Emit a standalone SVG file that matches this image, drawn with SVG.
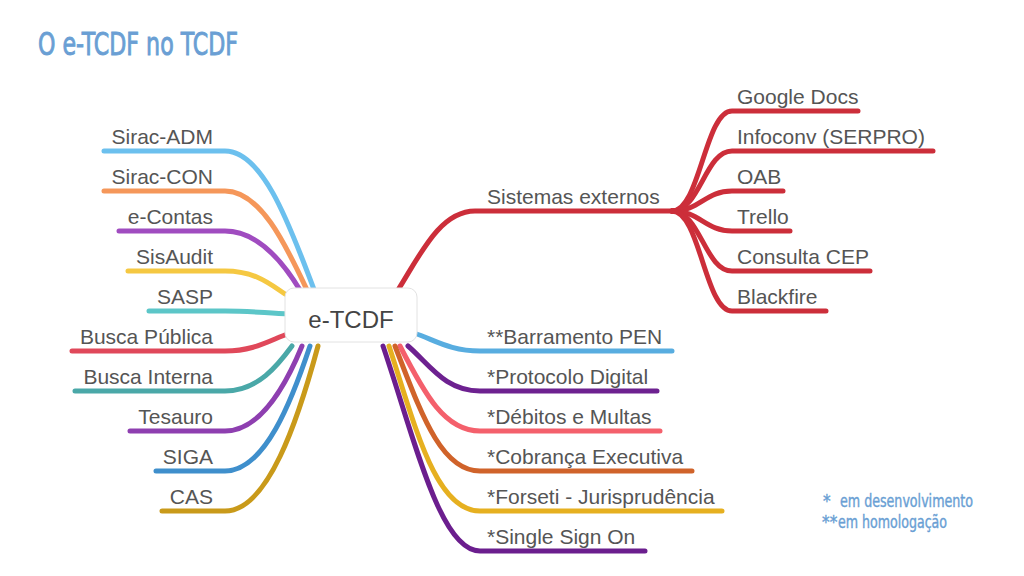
<svg xmlns="http://www.w3.org/2000/svg" width="1024" height="576" viewBox="0 0 1024 576">
<style>
.bg{fill:#ffffff}
.c{fill:none;stroke-width:5;stroke-linecap:round;stroke-linejoin:round}
.lbl{font-family:"Liberation Sans",Arial,sans-serif;font-size:21px;fill:#555555}
.l{text-anchor:end}
.hd{font-family:"DejaVu Sans","Liberation Sans",sans-serif;font-stretch:condensed;fill:#6a9fd4;stroke:#6a9fd4}
.root{fill:#ffffff;stroke:#e2e2e2;stroke-width:1}
.red{stroke:#cc2e3a}
</style>
<rect class="bg" x="0" y="0" width="1024" height="576"/>
<g id="title"><text class="hd" x="38" y="55" font-size="32" stroke-width="0.9" textLength="200" lengthAdjust="spacingAndGlyphs">O e-TCDF no TCDF</text></g>
<g id="connectors">
<path class="c" stroke="#6cc0ee" d="M104,151 H225 C265,151 293,235 315,292"/>
<path class="c" stroke="#f5975a" d="M104,191 H225 C262,191 288,250 308,292"/>
<path class="c" stroke="#a04cc0" d="M119,231 H225 C258,231 283,262 300,290"/>
<path class="c" stroke="#f5c842" d="M128,271 H225 C255,271 270,284 285,294"/>
<path class="c" stroke="#5cc6c8" d="M149,311 H225 C250,311 265,313 290,314"/>
<path class="c" stroke="#e0485a" d="M72,351 H225 C255,351 270,340 290,333"/>
<path class="c" stroke="#4aa8a8" d="M75,391 H225 C258,391 278,365 292,346"/>
<path class="c" stroke="#8e3fb0" d="M130,431 H225 C262,431 288,380 302,346"/>
<path class="c" stroke="#3f8fcc" d="M156,471 H225 C265,471 292,400 310,346"/>
<path class="c" stroke="#c99a1a" d="M162,511 H225 C268,511 298,420 318,346"/>
<path class="c red" d="M398,290 C420,255 440,211 475,211 H672"/>
<path class="c red" d="M672,211 C700,211 705,111 732,111 H858"/>
<path class="c red" d="M672,211 C700,211 705,151 732,151 H933"/>
<path class="c red" d="M672,211 C700,211 705,191 732,191 H783"/>
<path class="c red" d="M672,211 C700,211 705,231 732,231 H790"/>
<path class="c red" d="M672,211 C700,211 705,271 732,271 H870"/>
<path class="c red" d="M672,211 C700,211 705,311 732,311 H826"/>
<path class="c" stroke="#58ade0" d="M414,333 C435,340 450,351 480,351 H672"/>
<path class="c" stroke="#6d2190" d="M408,346 C430,365 445,391 480,391 H657"/>
<path class="c" stroke="#f4606c" d="M400,346 C425,395 445,431 480,431 H660"/>
<path class="c" stroke="#d0632a" d="M395,346 C420,410 440,471 480,471 H692"/>
<path class="c" stroke="#e6b020" d="M389,346 C415,425 435,511 480,511 H722"/>
<path class="c" stroke="#6b1e8e" d="M383,346 C415,440 440,551 480,551 H645"/>
</g>
<g id="root"><rect class="root" x="285" y="288" width="132" height="54" rx="9"/><text x="351" y="328" text-anchor="middle" font-family="Liberation Sans, Arial, sans-serif" font-size="24" fill="#444444">e-TCDF</text></g>
<g id="sirac-adm"><text class="lbl l" x="213" y="144">Sirac-ADM</text></g>
<g id="sirac-con"><text class="lbl l" x="213" y="184">Sirac-CON</text></g>
<g id="e-contas"><text class="lbl l" x="213" y="224">e-Contas</text></g>
<g id="sisaudit"><text class="lbl l" x="213" y="264">SisAudit</text></g>
<g id="sasp"><text class="lbl l" x="213" y="304">SASP</text></g>
<g id="busca-publica"><text class="lbl l" x="213" y="344">Busca Pública</text></g>
<g id="busca-interna"><text class="lbl l" x="213" y="384">Busca Interna</text></g>
<g id="tesauro"><text class="lbl l" x="213" y="424">Tesauro</text></g>
<g id="siga"><text class="lbl l" x="213" y="464">SIGA</text></g>
<g id="cas"><text class="lbl l" x="213" y="504">CAS</text></g>
<g id="sistemas-externos"><text class="lbl" x="487" y="204">Sistemas externos</text></g>
<g id="google-docs"><text class="lbl" x="737" y="104">Google Docs</text></g>
<g id="infoconv"><text class="lbl" x="737" y="144">Infoconv (SERPRO)</text></g>
<g id="oab"><text class="lbl" x="737" y="184">OAB</text></g>
<g id="trello"><text class="lbl" x="737" y="224">Trello</text></g>
<g id="consulta-cep"><text class="lbl" x="737" y="264">Consulta CEP</text></g>
<g id="blackfire"><text class="lbl" x="737" y="304">Blackfire</text></g>
<g id="barramento-pen"><text class="lbl" x="487" y="344">**Barramento PEN</text></g>
<g id="protocolo-digital"><text class="lbl" x="487" y="384">*Protocolo Digital</text></g>
<g id="debitos-multas"><text class="lbl" x="487" y="424">*Débitos e Multas</text></g>
<g id="cobranca-executiva"><text class="lbl" x="487" y="464">*Cobrança Executiva</text></g>
<g id="forseti"><text class="lbl" x="487" y="504">*Forseti - Jurisprudência</text></g>
<g id="single-sign-on"><text class="lbl" x="487" y="544">*Single Sign On</text></g>
<g id="legend">
<text class="hd" font-size="17" stroke-width="0.4" y="507"><tspan x="823">*</tspan><tspan x="840" textLength="133" lengthAdjust="spacingAndGlyphs">em desenvolvimento</tspan></text>
<text class="hd" font-size="17" stroke-width="0.4" y="528"><tspan x="822">**</tspan><tspan x="838" textLength="109" lengthAdjust="spacingAndGlyphs">em homologação</tspan></text>
</g>
</svg>
